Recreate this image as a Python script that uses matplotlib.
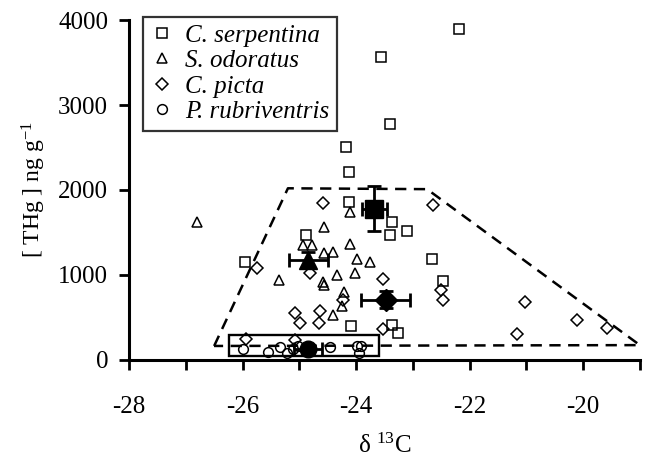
import numpy as np
import matplotlib.pyplot as plt
from matplotlib.patches import Rectangle

plt.rcParams['font.family'] = ['Liberation Serif', 'DejaVu Serif']
plt.rcParams['mathtext.fontset'] = 'custom'
plt.rcParams['mathtext.rm'] = 'Liberation Serif'
plt.rcParams['mathtext.it'] = 'Liberation Serif:italic'

# individual samples (d13C, THg ng/g)
serp_x = [-22.18, -23.56, -23.41, -24.17, -24.12, -24.12, -23.36, -23.10, -23.41,
          -25.95, -24.88, -22.67, -22.46, -24.08, -23.36, -23.26]
serp_y = [3900, 3560, 2775, 2505, 2210, 1860, 1625, 1520, 1470,
          1155, 1470, 1190, 930, 400, 410, 320]

odor_x = [-26.80, -25.35, -24.56, -24.93, -24.77, -24.56, -24.40, -24.10, -24.10,
          -23.98, -23.75, -24.33, -24.01, -24.59, -24.56, -24.21, -24.24, -24.40]
odor_y = [1625, 940, 1565, 1355, 1355, 1260, 1270, 1740, 1365,
          1190, 1155, 1000, 1025, 920, 880, 800, 635, 530]

picta_x = [-24.58, -22.64, -25.74, -24.81, -25.07, -24.98, -24.63, -24.65, -25.94,
           -25.07, -23.52, -24.23, -23.52, -22.51, -22.46, -21.02, -21.16, -20.10, -19.57]
picta_y = [1845, 1825, 1080, 1025, 555, 435, 575, 435, 250,
           235, 950, 705, 365, 825, 705, 680, 305, 470, 375]

rubr_x = [-25.99, -25.55, -25.34, -25.21, -25.11, -25.02, -24.45, -23.98, -23.92, -23.95]
rubr_y = [130, 95, 155, 80, 130, 165, 150, 165, 165, 85]

# species means with error bars
mean_x = [-23.68, -24.84, -23.48, -24.85]
mean_y = [1780, 1180, 710, 125]
mean_xerr = [0.22, 0.34, 0.43, 0.25]
mean_yerr = [265, 90, 100, 30]
mean_marker = ['s', '^', 'D', 'o']
mean_size = [13, 13, 11, 12]

# dashed envelope and rubriventris box
env_x = [-26.5, -25.2, -22.75, -19.0, -26.5]
env_y = [165, 2020, 2010, 175, 165]
box_x = (-26.24, -23.6)
box_y = (50, 295)

fig = plt.figure(figsize=(6.45, 4.62), dpi=100)
ax = fig.add_axes([0.2, 0.2208, 0.792, 0.7359])

ax.plot(env_x, env_y, color='black', lw=1.8, ls=(0, (4.5, 3)), zorder=1)
ax.add_patch(Rectangle((box_x[0], box_y[0]), box_x[1] - box_x[0], box_y[1] - box_y[0],
                       fill=False, ec='black', lw=1.7, zorder=2))

kw = dict(ls='none', mfc='none', mec='black', mew=1.1, zorder=3)
ax.plot(serp_x, serp_y, marker='s', ms=6.5, label='C. serpentina', **kw)
ax.plot(odor_x, odor_y, marker='^', ms=7.5, label='S. odoratus', **kw)
ax.plot(picta_x, picta_y, marker='D', ms=6.5, label='C. picta', **kw)
ax.plot(rubr_x, rubr_y, marker='o', ms=7, label='P. rubriventris', **kw)

for i in range(len(mean_x)):
    ax.errorbar(mean_x[i], mean_y[i], xerr=mean_xerr[i], yerr=mean_yerr[i],
                fmt=mean_marker[i], ms=mean_size[i], color='black', ecolor='black',
                elinewidth=2, capsize=5, capthick=2, zorder=4)

ax.set_xlim(-28, -19)
ax.set_ylim(0, 4000)
ax.set_xticks([-28, -26, -24, -22, -20])
ax.set_xticks([-27, -25, -23, -21, -19], minor=True)
ax.set_xticklabels(['-28', '-26', '-24', '-22', '-20'])
ax.set_yticks([0, 1000, 2000, 3000, 4000])
ax.tick_params(which='both', direction='out', width=2, length=7, labelsize=18, pad=8)
ax.tick_params(axis='x', pad=19)
ax.spines['top'].set_visible(False)
ax.spines['right'].set_visible(False)
ax.spines['left'].set_linewidth(2.2)
ax.spines['bottom'].set_linewidth(2.2)

ax.set_xlabel(r'$\mathregular{\delta\ ^{13}C}$', fontsize=18, labelpad=11)
ax.set_ylabel(r'[ THg ] ng g$^{\mathregular{-1}}$', fontsize=17, labelpad=7)

leg = ax.legend(loc='upper left', bbox_to_anchor=(0.027, 1.01), frameon=True, fancybox=False,
                edgecolor='black', prop={'style': 'italic', 'size': 18}, handletextpad=0.5,
                handlelength=0.9, labelspacing=0.12, borderpad=0.3, borderaxespad=0)
leg.get_frame().set_linewidth(1.6)

fig.savefig('out.png', dpi=100)
